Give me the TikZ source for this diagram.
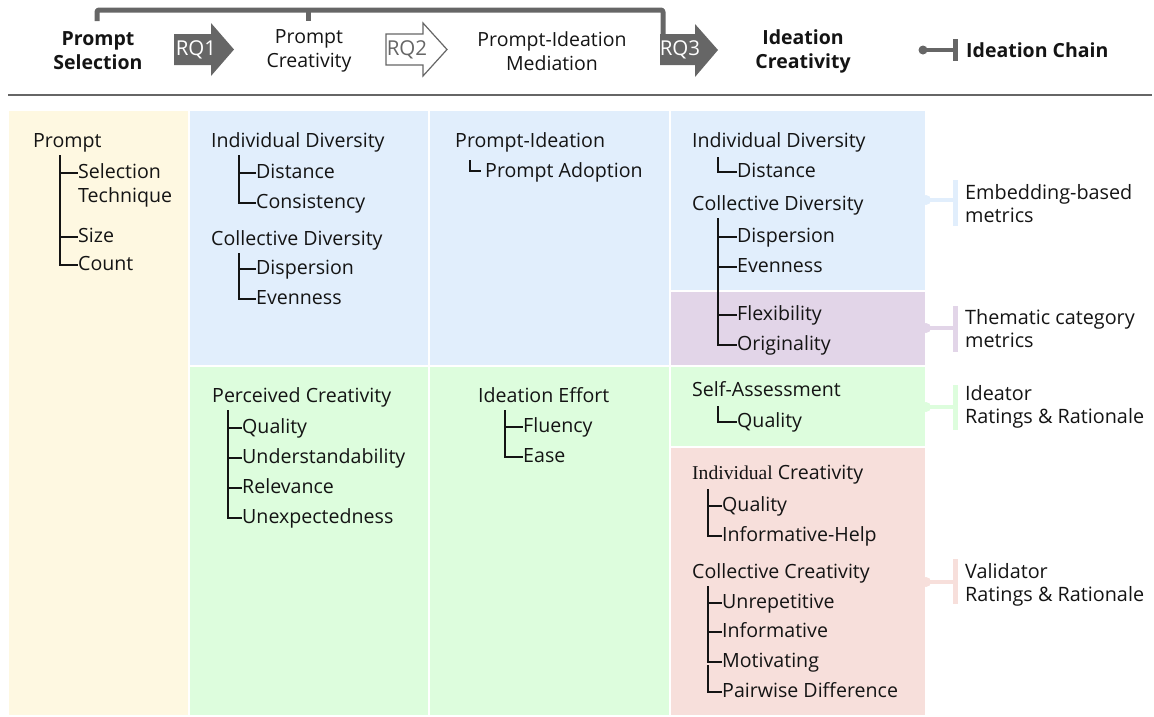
\documentclass[tikz,border=0pt]{standalone}
\usepackage{fontspec}
\setmainfont{Open Sans}
\newfontfamily\serifpart{Liberation Serif}
\definecolor{hgray}{HTML}{666666}
\definecolor{txt}{HTML}{141414}
\definecolor{cyel}{HTML}{FEF8E1}
\definecolor{cblue}{HTML}{E1EEFC}
\definecolor{cpur}{HTML}{E2D5E8}
\definecolor{cgrn}{HTML}{DDFDDD}
\definecolor{cpink}{HTML}{F7DFDB}
\tikzset{
  lbl/.style={anchor=west, inner sep=0pt, text height=15pt, text depth=4pt,
    font=\fontsize{19.6}{22}\selectfont, text=txt},
  side/.style={anchor=west, inner sep=0pt, align=left,
    font=\fontsize{19.8}{23}\selectfont, text=txt},
  hdr/.style={inner sep=0pt, align=center, font=\fontsize{19.5}{24}\selectfont, text=txt},
  hdrb/.style={hdr, font=\fontsize{19.5}{24}\selectfont\bfseries},
  tree/.style={draw=txt, line width=1.7pt},
  thin tree/.style={draw=txt, line width=1.1pt},
  rqfill/.style={fill=hgray, draw=none},
  rqline/.style={draw=hgray, line width=1.2pt, fill=white},
  rqtext/.style={inner sep=0pt, font=\fontsize{20.5}{22}\selectfont},
  chain/.style={line width=5pt, draw=hgray},
}
\begin{document}
\begin{tikzpicture}[x=1pt,y=-1pt]
\useasboundingbox (0,0) rectangle (1154,716);

% ---------- header ----------
\draw[chain, line join=round, rounded corners=2pt] (97,21) -- (97,10) -- (663,10) -- (663,36);
\draw[chain] (308,10) -- (308,21);

\node[hdrb] (h1) at (98,51) {Prompt\\Selection};
\node[hdr]  (h2) at (309,51) {Prompt\\Creativity};
\node[hdr]  (h3) at (552,51) {Prompt-Ideation\\Mediation};
\node[hdrb] (h4) at (803,51) {Ideation\\Creativity};

\fill[rqfill] (174,34) -- (211,34) -- (211,23) -- (234,49.5) -- (211,76) -- (211,65) -- (174,65) -- cycle;
\node[rqtext, text=white] (rq1) at (196,49.5) {RQ1};
\draw[rqline] (386,34) -- (423,34) -- (423,23) -- (447,49.5) -- (423,76) -- (423,65) -- (386,65) -- cycle;
\node[rqtext, text=hgray] (rq2) at (407,49.5) {RQ2};
\fill[rqfill] (660,34) -- (695,34) -- (695,24) -- (718,50) -- (695,77) -- (695,65) -- (660,65) -- cycle;
\node[rqtext, text=white] (rq3) at (680,50) {RQ3};

% legend
\fill[hgray] (923,50) circle (4.5);
\draw[hgray, line width=4pt] (923,50) -- (955,50);
\draw[hgray, line width=5pt] (955.5,39) -- (955.5,61);
\node[anchor=west, inner sep=0pt, font=\fontsize{19.5}{22}\selectfont\bfseries, text=txt] (leg) at (966,50) {Ideation Chain};

\draw[hgray, line width=2.2pt] (8,95) -- (1152,95);

% ---------- panels ----------
\fill[cyel]  (9,111) rectangle (188,715);
\fill[cblue] (190,111) rectangle (428,365);
\fill[cblue] (430,111) rectangle (669,365);
\fill[cblue] (671,111) rectangle (925,290);
\fill[cpur]  (671,292) rectangle (925,365);
\fill[cgrn]  (190,367) rectangle (428,715);
\fill[cgrn]  (430,367) rectangle (669,715);
\fill[cgrn]  (671,367) rectangle (925,446);
\fill[cpink] (671,448) rectangle (925,715);

% ---------- column 1 ----------
\node[lbl] (p0) at (33,142) {Prompt};
\node[lbl] (p1) at (78,173) {Selection};
\node[lbl] (p1b) at (78,197) {Technique};
\node[lbl] (p2) at (78,237) {Size};
\node[lbl] (p3) at (78,265) {Count};
\draw[tree] (60,155) |- (p3.west);
\draw[tree] (60,173) -- (p1.west);
\draw[tree] (60,237) -- (p2.west);

% ---------- column 2 ----------
\node[lbl] (a0) at (211,142) {Individual Diversity};
\node[lbl] (a1) at (256,173) {Distance};
\node[lbl] (a2) at (256,203) {Consistency};
\draw[tree] (239,155) |- (a2.west);
\draw[tree] (239,173) -- (a1.west);
\node[lbl] (b0) at (211,240) {Collective Diversity};
\node[lbl] (b1) at (256,269) {Dispersion};
\node[lbl] (b2) at (256,299) {Evenness};
\draw[tree] (239,253) |- (b2.west);
\draw[tree] (239,269) -- (b1.west);

\node[lbl] (c0) at (212,397) {Perceived Creativity};
\node[lbl] (c1) at (242,428) {Quality};
\node[lbl] (c2) at (242,458) {Understandability};
\node[lbl] (c3) at (242,488) {Relevance};
\node[lbl] (c4) at (242,518) {Unexpectedness};
\draw[tree] (228,410) |- (c4.west);
\foreach \n/\yy in {c1/428,c2/458,c3/488} \draw[tree] (228,\yy) -- (\n.west);

% ---------- column 3 ----------
\node[lbl] (d0) at (455,142) {Prompt-Ideation};
\node[lbl] (d1) at (485,172) {Prompt Adoption};
\draw[thin tree] (470,160) |- (481,171);

\node[lbl] (e0) at (478,397) {Ideation Effort};
\node[lbl] (e1) at (523,427) {Fluency};
\node[lbl] (e2) at (523,457) {Ease};
\draw[tree] (505,410) |- (e2.west);
\draw[tree] (505,427) -- (e1.west);

% ---------- column 4 ----------
\node[lbl] (f0) at (692,142) {Individual Diversity};
\node[lbl] (f1) at (737,172) {Distance};
\draw[tree] (718,157) |- (f1.west);
\node[lbl] (g0) at (692,205) {Collective Diversity};
\node[lbl] (g1) at (737,237) {Dispersion};
\node[lbl] (g2) at (737,267) {Evenness};
\node[lbl] (g3) at (737,315) {Flexibility};
\node[lbl] (g4) at (737,345) {Originality};
\draw[tree] (718,218) |- (g4.west);
\foreach \n/\yy in {g1/237,g2/267,g3/315} \draw[tree] (718,\yy) -- (\n.west);

\node[lbl] (s0) at (692,391) {Self-Assessment};
\node[lbl] (s1) at (737,422) {Quality};
\draw[tree] (718,406) |- (s1.west);

\node[lbl] (i0) at (692,474) {{\serifpart Individual} Creativity};
\node[lbl] (i1) at (722,506) {Quality};
\node[lbl] (i2) at (722,536) {Informative-Help};
\draw[tree] (708,489) |- (i2.west);
\draw[tree] (708,506) -- (i1.west);
\node[lbl] (k0) at (692,573) {Collective Creativity};
\node[lbl] (k1) at (722,603) {Unrepetitive};
\node[lbl] (k2) at (722,632) {Informative};
\node[lbl] (k3) at (722,662) {Motivating};
\node[lbl] (k4) at (722,692) {Pairwise Difference};
\draw[tree] (708,586) |- (k3.west);
\draw[tree] (708,603) -- (k1.west);
\draw[tree] (708,632) -- (k2.west);
\draw[tree] (708,665) |- (k4.west);

% ---------- side brackets ----------
\foreach \c/\yc/\ya/\yb in {cblue/200/180/226, cpur/328/306/352, cgrn/407/385/430, cpink/582/559/604}{
  \fill[\c] (926,\yc) circle (5);
  \draw[\c, line width=4pt] (926,\yc) -- (956,\yc);
  \draw[\c, line width=5pt] (955.5,\ya) -- (955.5,\yb);
}
\node[side] (m1) at (965,203.5) {Embedding-based\\metrics};
\node[side] (m2) at (965,328.5) {Thematic category\\metrics};
\node[side] (m3) at (965,406.5) {Ideator\\Ratings \& Rationale};
\node[side] (m4) at (965,584.5) {Validator\\Ratings \& Rationale};
\end{tikzpicture}
\end{document}
